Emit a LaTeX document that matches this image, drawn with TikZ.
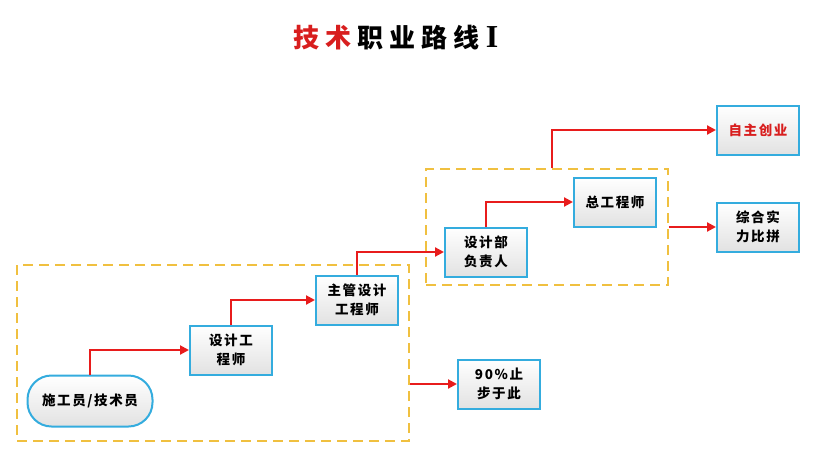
\documentclass[tikz,border=0pt]{standalone}
\usepackage{fontspec}
\newfontfamily\cjk{Noto Sans CJK SC}
\newfontfamily\cjkbox[LetterSpace=12]{Noto Sans CJK SC}
\newfontfamily\romani{Liberation Serif}
\usetikzlibrary{arrows.meta}
\definecolor{boxblue}{RGB}{52,172,222}
\definecolor{pathred}{RGB}{232,28,28}
\definecolor{groupgold}{RGB}{240,192,64}
\definecolor{boxgray}{RGB}{226,226,226}
\definecolor{titlered}{RGB}{216,30,30}
\newcommand{\tsp}{\hspace{6pt}}

\begin{document}
\begin{tikzpicture}[x=1pt, y=-1pt,
        stepbox/.style={draw=boxblue, line width=2pt, top color=white, bottom color=boxgray,
                minimum width=82pt, minimum height=49pt, inner sep=2pt, align=center,
                font=\cjkbox\bfseries\fontsize{13.5}{19}\selectfont},
        startbox/.style={stepbox, rounded corners=24pt, minimum width=125pt, minimum height=51pt},
        groupbox/.style={draw=groupgold, line width=1.6pt, dash pattern=on 10pt off 6pt, inner sep=0pt},
        redarrow/.style={draw=pathred, line width=2.1pt, -{Triangle[length=9pt,width=9pt]}}]
        \useasboundingbox (0,0) rectangle (822,456);

        % title
        \node[font=\cjk\bfseries\fontsize{26}{30}\selectfont] (title) at (396,38)
                {\textcolor{titlered}{技\tsp 术}\tsp 职\tsp 业\tsp 路\tsp 线\tsp{\romani\bfseries\fontsize{32}{32}\selectfont I}};

        % dashed groups
        \node[groupbox, minimum width=392pt, minimum height=176pt] (lowgrp) at (213,353) {};
        \node[groupbox, minimum width=242pt, minimum height=116pt] (upgrp) at (547,227) {};

        % career steps
        \node[startbox] (shigong) at (90,401) {施工员/技术员};
        \node[stepbox] (sheji) at (231,350) {设计工\\程师};
        \node[stepbox] (zhuguan) at (357,300) {主管设计\\工程师};
        \node[stepbox] (fuze) at (486,252) {设计部\\负责人};
        \node[stepbox] (zonggong) at (615,202) {总工程师};
        \node[stepbox, text=titlered] (zizhu) at (758,130) {自主创业};
        \node[stepbox] (zonghe) at (758,227) {综合实\\力比拼};
        \node[stepbox] (zhibu) at (499,384) {90\%止\\步于此};

        \foreach \a/\b in {shigong/sheji, sheji/zhuguan, zhuguan/fuze, fuze/zonggong}
        \draw[redarrow] (\a.north) |- (\b.west);
        \draw[redarrow] ([xshift=5pt]upgrp.north) |- (zizhu.west);
        \draw[redarrow] (zonghe.west -| upgrp.east) -- (zonghe.west);
        \draw[redarrow] (zhibu.west -| lowgrp.east) -- (zhibu.west);

    \end{tikzpicture}
\end{document}
